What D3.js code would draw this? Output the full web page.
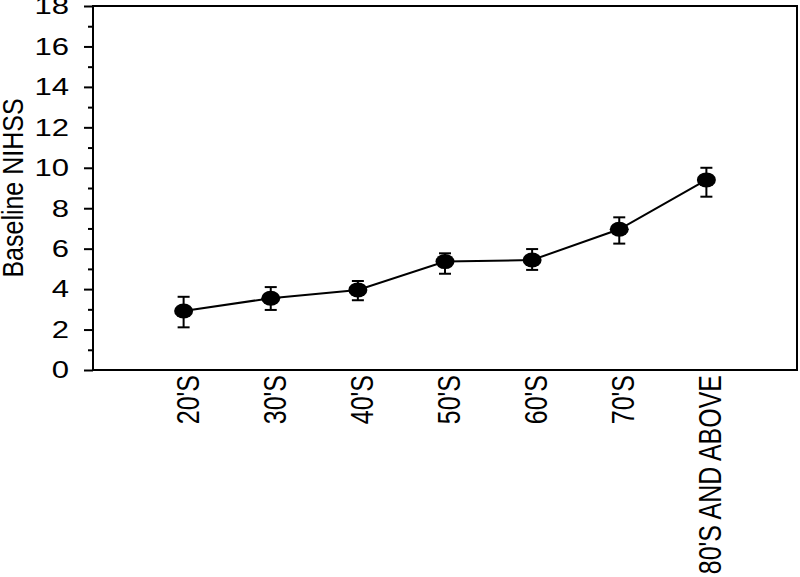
<!DOCTYPE html>
<html>
<head>
<meta charset="utf-8">
<script src="https://cdn.jsdelivr.net/npm/d3@7"></script>
<style>
  body { margin: 0; background: #fff; }
  text { font-family: "Liberation Sans", Arial, sans-serif; fill: #000; }
</style>
</head>
<body>
<div id="chart"></div>
<script>
// data
let ageGroups = ["20'S", "30'S", "40'S", "50'S", "60'S", "70'S", "80'S AND ABOVE"];
let meanNihss = [2.92, 3.55, 3.96, 5.36, 5.44, 6.96, 9.40];
let upperNihss = [3.62, 4.10, 4.40, 5.77, 5.98, 7.55, 10.00];
let lowerNihss = [2.11, 2.97, 3.45, 4.76, 4.95, 6.25, 8.57];
let yTicks = [0, 2, 4, 6, 8, 10, 12, 14, 16, 18];
let yMinorTicks = [1, 3, 5, 7, 9, 11, 13, 15, 17];

let svgWidth = 800;
let svgHeight = 577;
let margin = { top: 6, right: 3, bottom: 207, left: 93 };

let svg = d3.select("#chart")
  .append("svg")
  .attr("width", svgWidth)
  .attr("height", svgHeight);

let width = svgWidth - margin.left - margin.right,
  height = svgHeight - margin.top - margin.bottom;

let chartGroup = svg.append("g")
  .attr("transform", `translate(${margin.left}, ${margin.top})`);

let x = d3.scalePoint()
  .domain(ageGroups)
  .range([0, width])
  .padding(1.04);

let y = d3.scaleLinear()
  .domain([0, 18])
  .range([height, 0]);

let points = ageGroups.map((g, i) => ({
  name: g, mean: meanNihss[i], hi: upperNihss[i], lo: lowerNihss[i]
}));

// minor ticks
chartGroup.append("g")
  .call(d3.axisLeft(y).tickValues(yMinorTicks).tickSize(5).tickFormat(""))
  .call(g => g.select(".domain").remove())
  .selectAll("line").attr("stroke-width", 2);

// major ticks, labels drawn stretched like the original
let yAxis = chartGroup.append("g")
  .call(d3.axisLeft(y).tickValues(yTicks).tickSize(9).tickFormat(""))
  .call(g => g.select(".domain").remove());
yAxis.selectAll("line").attr("stroke-width", 2);

chartGroup.selectAll(".ylab")
  .data(yTicks)
  .enter()
  .append("text")
  .attr("class", "ylab")
  .attr("transform", d => `translate(-24, ${y(d)}) scale(1.35,1)`)
  .attr("dy", "0.36em")
  .attr("text-anchor", "end")
  .attr("font-size", 23)
  .text(d => d);

// frame
chartGroup.append("rect")
  .attr("x", 0)
  .attr("y", 0)
  .attr("width", width)
  .attr("height", height)
  .attr("fill", "none")
  .attr("stroke", "#000")
  .attr("stroke-width", 2);

// x labels, rotated
chartGroup.selectAll(".xlab")
  .data(ageGroups)
  .enter()
  .append("text")
  .attr("class", "xlab")
  .attr("transform", d => `translate(${x(d) + 15}, ${height + 5}) scale(1.28,1) rotate(-90)`)
  .attr("text-anchor", "end")
  .attr("font-size", 25)
  .text(d => d);

// y axis title
svg.append("text")
  .attr("transform", `translate(23, 188) scale(1.17,1) rotate(-90)`)
  .attr("text-anchor", "middle")
  .attr("font-size", 25)
  .text("Baseline NIHSS");

// connecting line
chartGroup.append("path")
  .datum(points)
  .attr("fill", "none")
  .attr("stroke", "#000")
  .attr("stroke-width", 2)
  .attr("d", d3.line().x(d => x(d.name)).y(d => y(d.mean)));

// error bars
let bars = chartGroup.selectAll(".err")
  .data(points)
  .enter()
  .append("g")
  .attr("class", "err")
  .attr("stroke", "#000")
  .attr("stroke-width", 2);

bars.append("line")
  .attr("x1", d => x(d.name))
  .attr("x2", d => x(d.name))
  .attr("y1", d => y(d.lo))
  .attr("y2", d => y(d.hi));
bars.append("line")
  .attr("x1", d => x(d.name) - 6)
  .attr("x2", d => x(d.name) + 6)
  .attr("y1", d => y(d.hi))
  .attr("y2", d => y(d.hi));
bars.append("line")
  .attr("x1", d => x(d.name) - 6)
  .attr("x2", d => x(d.name) + 6)
  .attr("y1", d => y(d.lo))
  .attr("y2", d => y(d.lo));

// markers
chartGroup.selectAll(".dot")
  .data(points)
  .enter()
  .append("ellipse")
  .attr("class", "dot")
  .attr("cx", d => x(d.name))
  .attr("cy", d => y(d.mean))
  .attr("rx", 9.5)
  .attr("ry", 7.5)
  .attr("fill", "#000");
</script>
</body>
</html>
